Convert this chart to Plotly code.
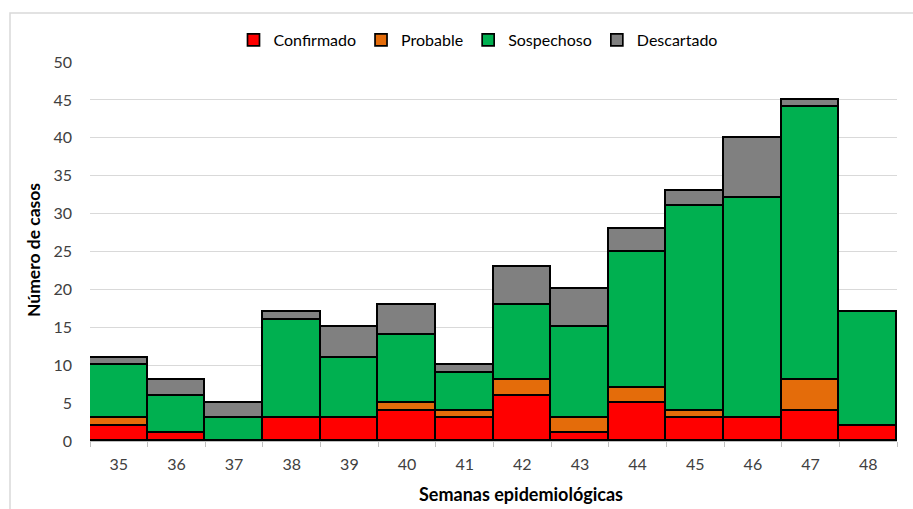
import plotly.graph_objects as go

# Casos por semana epidemiológica y clasificación
semanas = ["35", "36", "37", "38", "39", "40", "41", "42", "43", "44", "45", "46", "47", "48"]
confirmado = [2, 1, 0, 3, 3, 4, 3, 6, 1, 5, 3, 3, 4, 2]
probable = [1, 0, 0, 0, 0, 1, 1, 2, 2, 2, 1, 0, 4, 0]
sospechoso = [7, 5, 3, 13, 8, 9, 5, 10, 12, 18, 27, 29, 36, 15]
descartado = [1, 2, 2, 1, 4, 4, 1, 5, 5, 3, 2, 8, 1, 0]

series = [
    ("Confirmado", confirmado, "#FF0000"),
    ("Probable", probable, "#E46C0A"),
    ("Sospechoso", sospechoso, "#00B050"),
    ("Descartado", descartado, "#808080"),
]

W, H = 913, 509
L, R, T, B = 90, 16, 62, 68
pw, ph = W - L - R, H - T - B

fig = go.Figure()
for name, vals, color in series:
    fig.add_trace(go.Bar(
        x=semanas, y=vals, name=name,
        marker=dict(color=color, line=dict(color="#000000", width=1.7)),
    ))

font = "Lato, Calibri, 'Open Sans', sans-serif"

fig.update_layout(
    width=W, height=H,
    margin=dict(l=L, r=R, t=T, b=B),
    barmode="stack", bargap=0,
    paper_bgcolor="white", plot_bgcolor="white",
    font=dict(family=font, size=16, color="#404040"),
    legend=dict(
        orientation="h", x=(478 - L) / pw, xanchor="center",
        y=(H - B - 40) / ph, yanchor="middle",
        font=dict(size=16, color="#000000"), traceorder="normal",
        itemwidth=30,
    ),
    xaxis=dict(
        type="category", showgrid=False,
        showline=True, linecolor="#BFBFBF", linewidth=1,
        ticks="outside", tickson="boundaries", ticklen=5, tickcolor="#BFBFBF",
        tickfont=dict(size=16, color="#404040"),
        ticklabelstandoff=9,
    ),
    yaxis=dict(
        range=[0, 50], dtick=5, showgrid=True, gridcolor="#D9D9D9", gridwidth=1,
        zeroline=False, ticks="", tickfont=dict(size=16, color="#404040"),
        ticklabelstandoff=17,
    ),
    annotations=[
        dict(text="<b>Semanas epidemiológicas</b>", xref="paper", yref="paper",
             x=(521 - L) / pw, y=-(494 - (H - B)) / ph, xanchor="center", yanchor="middle",
             showarrow=False, font=dict(size=18, color="#000000")),
        dict(text="<b>Número de casos</b>", xref="paper", yref="paper",
             x=-(L - 33) / pw, y=(H - B - 250) / ph, xanchor="center", yanchor="middle",
             textangle=-90, showarrow=False, font=dict(size=17.5, color="#000000")),
    ],
    shapes=[
        dict(type="rect", xref="paper", yref="paper",
             x0=-(L - 10) / pw, x1=(W + 5 - L) / pw,
             y0=-(H + 5 - (H - B)) / ph, y1=(H - B - 13) / ph,
             line=dict(color="#D9D9D9", width=1.5), fillcolor="rgba(0,0,0,0)",
             layer="below"),
    ],
)

fig.write_html("out.html")
